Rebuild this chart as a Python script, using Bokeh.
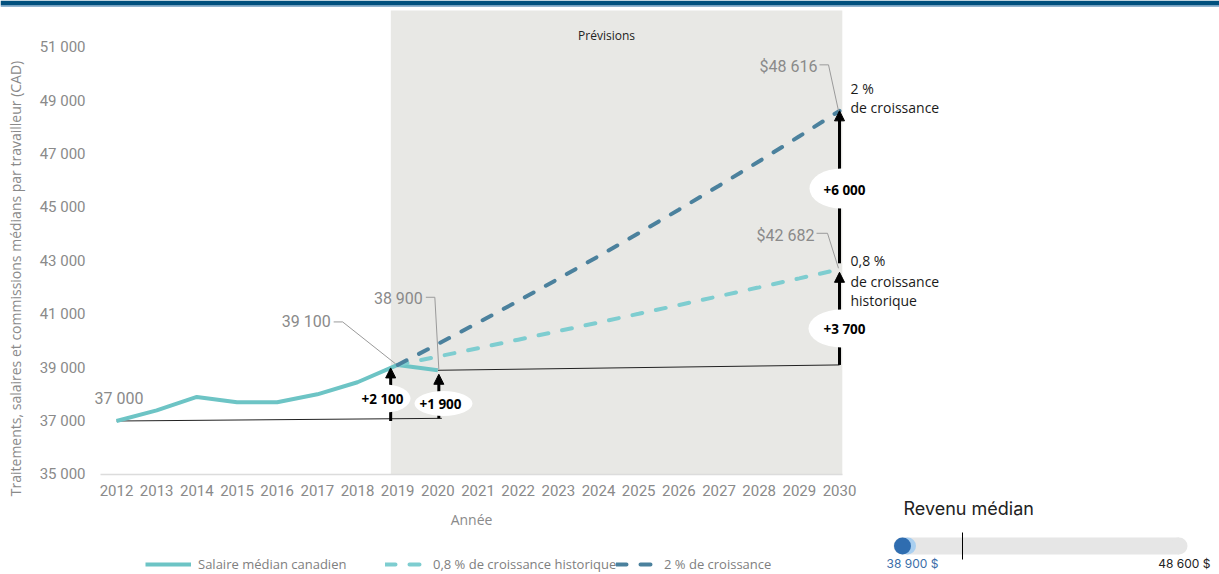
from bokeh.plotting import figure
from bokeh.models import Range1d, FixedTicker, Arrow, NormalHead, Legend, LegendItem, BoxAnnotation
from bokeh.core.properties import value
from bokeh.embed import file_html
from bokeh.resources import INLINE

# ---------------- data ----------------
years_hist = [2012, 2013, 2014, 2015, 2016, 2017, 2018, 2019, 2020]
salary_hist = [37000, 37400, 37900, 37700, 37700, 38000, 38450, 39100, 38900]
years_proj = [2019, 2020, 2021, 2022, 2023, 2024, 2025, 2026, 2027, 2028, 2029, 2030]
proj_hist_growth = [39100, 39413, 39728, 40046, 40366, 40689, 41015, 41343, 41674, 42007, 42343, 42682]
proj_two_pct = [39100, 39882, 40680, 41493, 42323, 43170, 44033, 44914, 45812, 46728, 47663, 48616]
x_ticks = list(range(2012, 2031))
y_ticks = [35000, 37000, 39000, 41000, 43000, 45000, 47000, 49000, 51000]
y_tick_labels = ["35 000", "37 000", "39 000", "41 000", "43 000", "45 000", "47 000", "49 000", "51 000"]
forecast_start, forecast_end = 2019, 2030
gain_labels = ["+2 100", "+1 900", "+3 700", "+6 000"]
series_names = ["Salaire médian canadien", "0,8 % de croissance historique", "2 % de croissance"]
slider_min, slider_max = 38900, 48600

# ---------------- layout (page pixel coordinates) ----------------
W, H = 1219, 574
FL, FR, FT, FB = 0, 1219, 0, 574             # the frame covers the whole canvas
AXIS_X = 100                                 # where the value axis sits on the page
PPX = (839 - 116) / 18.0                     # px per year
PPY = 0.0267                                 # px per dollar
X0 = 2012 - (116 - FL) / PPX
X1 = X0 + (FR - FL) / PPX
Y1 = 37000 + (420.5 - FT) / PPY
Y0 = Y1 - (FB - FT) / PPY

def px_x(v): return FL + (v - X0) * PPX
def px_y(v): return FT + (Y1 - v) * PPY
def at_x(px): return X0 + (px - FL) / PPX
def at_y(py): return Y1 - (py - FT) / PPY

GREY = "#8a8a8a"
C_HIST = "#6dc4c5"
C_LIGHT = "#7ecdd0"
C_DARK = "#4b819d"

p = figure(width=W, height=H, x_range=Range1d(X0, X1), y_range=Range1d(Y0, Y1),
           output_backend="svg", toolbar_location=None,
           min_border_left=0, min_border_right=0, min_border_top=0, min_border_bottom=0,
           outline_line_color=None, background_fill_color="white", border_fill_color="white")
p.xgrid.visible = False
p.ygrid.visible = False

# page header strip
p.add_layout(BoxAnnotation(left=at_x(0), right=at_x(W), top=at_y(0), bottom=at_y(5),
                           fill_color="#01507e", fill_alpha=1, line_color=None))
p.add_layout(BoxAnnotation(left=at_x(0), right=at_x(W), top=at_y(5), bottom=at_y(6.2),
                           fill_color="#6f9cc2", fill_alpha=1, line_color=None))

# axes
xa = p.xaxis[0]
xa.fixed_location = 35000
xa.ticker = FixedTicker(ticks=x_ticks)
xa.bounds = (at_x(AXIS_X), at_x(842))
xa.axis_line_color = "#dcdcdc"
xa.axis_line_width = 1.5
xa.major_tick_out = 0
xa.major_tick_in = 0
xa.minor_tick_out = 0
xa.minor_tick_in = 0
xa.major_label_text_font = "Roboto"
xa.major_label_text_font_size = "15px"
xa.major_label_text_color = GREY
xa.major_label_standoff = 11
xa.axis_label = "Année"
xa.axis_label_text_font = "Open Sans"
xa.axis_label_text_font_style = "normal"
xa.axis_label_text_font_size = "14px"
xa.axis_label_text_color = GREY
xa.axis_label_standoff = 10

ya = p.yaxis[0]
ya.fixed_location = at_x(AXIS_X)
ya.ticker = FixedTicker(ticks=y_ticks)
ya.bounds = (at_y(556), at_y(0))
ya.major_label_overrides = dict(zip(y_ticks, y_tick_labels))
ya.axis_line_color = None
ya.major_tick_out = 0
ya.major_tick_in = 0
ya.minor_tick_out = 0
ya.minor_tick_in = 0
ya.major_label_text_font = "Roboto"
ya.major_label_text_font_size = "15px"
ya.major_label_text_color = GREY
ya.major_label_standoff = 15
ya.axis_label = "Traitements, salaires et commissions médians par travailleur (CAD)"
ya.axis_label_text_font = "Open Sans"
ya.axis_label_text_font_style = "normal"
ya.axis_label_text_font_size = "14px"
ya.axis_label_text_color = GREY
ya.axis_label_standoff = 12

# forecast shading
p.quad(left=[forecast_start - 0.17], right=[forecast_end + 0.07], bottom=[35000], top=[at_y(10)],
       fill_color="#e8e8e5", line_color=None)
p.text(x=[at_x(606)], y=[at_y(35)], text=["Prévisions"], text_font=value("Open Sans"),
       text_font_size="12px", text_color="#222222", text_align="center", text_baseline="middle")

# thin black reference lines
p.line([years_hist[0], 2020.1], [salary_hist[0], 37100], line_color="#222222", line_width=1)
p.line([2020, 2030], [salary_hist[-1], 39100], line_color="#222222", line_width=1)

# series
r_hist = p.line(years_hist, salary_hist, line_color=C_HIST, line_width=4, line_join="round")
r_light = p.line(years_proj, proj_hist_growth, line_color=C_LIGHT, line_width=4,
                 line_dash="10 14", line_cap="round")
r_dark = p.line(years_proj, proj_two_pct, line_color=C_DARK, line_width=4,
                line_dash="10 14", line_cap="round")

# value call-outs with leader lines
def rel(xv, yv, ox, oy):
    return at_x(px_x(xv) + ox), at_y(px_y(yv) + oy)

callouts = [
    (2019, salary_hist[7], "39 100", (-67, -43), [(-64, -43), (-55, -43), (-2, -1)]),
    (2020, salary_hist[8], "38 900", (-15, -72), [(-12, -73), (-3, -73), (1, -1)]),
    (2030, proj_two_pct[-1], "$48 616", (-22, -44), [(-20, -46), (-11, -46), (-1, 0)]),
    (2030, proj_hist_growth[-1], "$42 682", (-25, -34), [(-23, -36), (-12, -36), (-1, -1)]),
]
lx, ly, tx, ty, tt = [], [], [], [], []
for ax_, ay_, t, (ox, oy), pts in callouts:
    xs_, ys_ = zip(*[rel(ax_, ay_, a, b) for a, b in pts])
    lx.append(list(xs_)); ly.append(list(ys_))
    x_, y_ = rel(ax_, ay_, ox, oy)
    tx.append(x_); ty.append(y_); tt.append(t)
p.multi_line(lx, ly, line_color="#9a9a9a", line_width=1)
p.text(x=tx, y=ty, text=tt, text_font=value("Roboto"), text_font_size="16px",
       text_color=GREY, text_align="right", text_baseline="middle")
x37, y37 = rel(years_hist[0], salary_hist[0], 2.5, -22.5)
p.text(x=[x37], y=[y37], text=["37 000"], text_font=value("Roboto"), text_font_size="16px",
       text_color=GREY, text_align="center", text_baseline="middle")

# right-side growth labels
gx, gy, gt = [], [], []
for t, oy in [("2 %", -22), ("de croissance", -3)]:
    x_, y_ = rel(2030, proj_two_pct[-1], 11, oy); gx.append(x_); gy.append(y_); gt.append(t)
for t, oy in [("0,8 %", -9), ("de croissance", 12), ("historique", 31)]:
    x_, y_ = rel(2030, proj_hist_growth[-1], 11, oy); gx.append(x_); gy.append(y_); gt.append(t)
p.text(x=gx, y=gy, text=gt, text_font=value("Open Sans"), text_font_size="14px",
       text_color="#1a1a1a", text_align="left", text_baseline="middle")

# gain arrows
x_a1 = at_x(px_x(2019) - 7)
x_a2 = at_x(px_x(2020) + 1)
x_a3 = 2030
arrows = [
    (x_a1, salary_hist[0], salary_hist[7], 3, (384, 398), (52, 28), (382, 398)),
    (x_a2, 37100, salary_hist[8], 4, (443, 403), (58, 25), (440, 403)),
    (x_a3, 39100, proj_hist_growth[-1], 3, (841, 328), (66, 38), (844, 328)),
    (x_a3, at_y(px_y(proj_hist_growth[-1]) - 6), proj_two_pct[-1], 0, (841, 188), (64, 40), (844, 189)),
]
sx0, sy0, sx1, sy1 = [], [], [], []
ex, ey, ew, eh = [], [], [], []
bx, by = [], []
heads = []
for xa_, yf, yt, off, ec, (w_, h_), tc in arrows:
    tip_py = px_y(yt) + off
    sx0.append(xa_); sy0.append(yf); sx1.append(xa_); sy1.append(at_y(tip_py + 8))
    ex.append(at_x(ec[0])); ey.append(at_y(ec[1])); ew.append(w_); eh.append(h_)
    bx.append(at_x(tc[0])); by.append(at_y(tc[1]))
    heads.append((xa_, at_y(tip_py + 9), at_y(tip_py)))
p.segment(sx0, sy0, sx1, sy1, line_color="black", line_width=3)
p.ellipse(x=ex, y=ey, width=ew, height=eh, width_units="screen", height_units="screen",
          fill_color="white", line_color=None)
p.text(x=bx, y=by, text=gain_labels, text_font=value("Open Sans"), text_font_style="bold",
       text_font_size="13.5px", text_color="black", text_align="center", text_baseline="middle")
for xh, ys_, ye_ in heads:
    p.add_layout(Arrow(end=NormalHead(size=10, fill_color="black", line_color="black", line_width=1),
                       x_start=xh, y_start=ys_, x_end=xh, y_end=ye_,
                       line_color="black", line_width=3))

# legend (one block per entry, placed like the original)
for name, rend, lx0, gap in [(series_names[0], r_hist, 145, 7), (series_names[1], r_light, 385, 2),
                             (series_names[2], r_dark, 616, 2)]:
    lg = Legend(items=[LegendItem(label=name, renderers=[rend])],
                location=(lx0 - FL, FB - 573), orientation="horizontal", padding=0, margin=0,
                spacing=0, glyph_width=46, glyph_height=14, label_height=14,
                label_standoff=gap, label_text_font="Open Sans", label_text_font_size="13px",
                label_text_color="#808080", background_fill_alpha=0, border_line_color=None)
    p.add_layout(lg)

# slider widget (decoration)
track_y = at_y(545.5)
p.rect(x=[at_x(1040)], y=[track_y], width=[277], height=[17], width_units="screen",
       height_units="screen", fill_color="#e6e6e6", line_color=None)
p.scatter(x=[at_x(901.5), at_x(1178.5)], y=[track_y, track_y], size=17, marker="circle",
          fill_color="#e6e6e6", line_color=None)
p.scatter(x=[at_x(907)], y=[track_y], size=17, marker="circle", fill_color="#a9cff0", line_color=None)
p.scatter(x=[at_x(902)], y=[track_y], size=17, marker="circle", fill_color="#2f6db0", line_color=None)
p.segment([at_x(962)], [at_y(532)], [at_x(962)], [at_y(559)], line_color="black", line_width=1)
p.text(x=[at_x(903)], y=[at_y(508)], text=["Revenu médian"], text_font=value("Inter"),
       text_font_size="18px", text_color="#222222", text_align="left", text_baseline="middle")
fmt = lambda v: f"{v:,}".replace(",", " ") + " $"
p.text(x=[at_x(886)], y=[at_y(563)], text=[fmt(slider_min)], text_font=value("Inter"),
       text_font_size="12px", text_color="#3b6ea8", text_align="left", text_baseline="middle")
p.text(x=[at_x(1210)], y=[at_y(563)], text=[fmt(slider_max)], text_font=value("Inter"),
       text_font_size="12px", text_color="#222222", text_align="right", text_baseline="middle")

open("out.html", "w").write(file_html(p, INLINE))
